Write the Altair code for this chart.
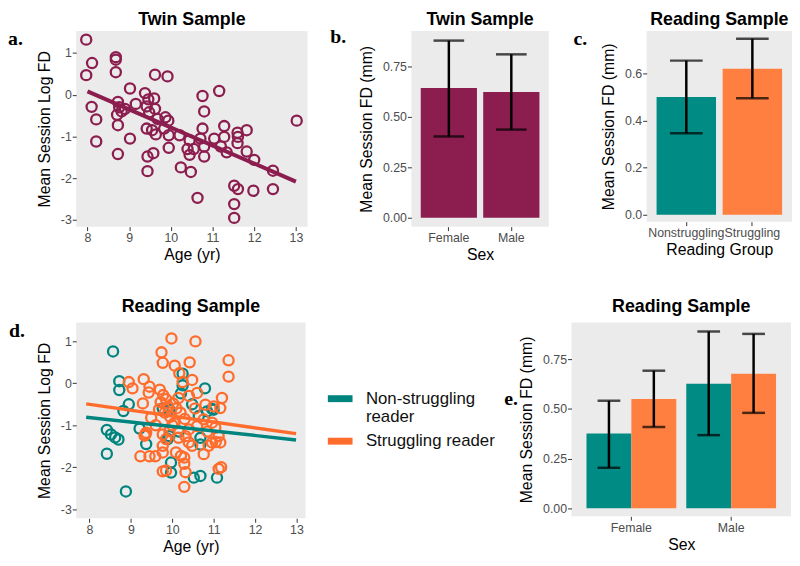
import altair as alt
import pandas as pd

# ---------------- data ----------------
panel_titles = ["Twin Sample", "Twin Sample", "Reading Sample", "Reading Sample", "Reading Sample"]

# Panel a: Twin sample scatter
a_age = [7.97, 8.11, 7.97, 8.68, 8.68, 8.68, 9.62, 9.92, 8.10, 8.21, 8.21, 8.73, 8.76, 8.90,
         8.71, 8.73, 9.02, 9.02, 8.73, 9.16, 9.38, 9.46, 9.60, 9.42, 9.62, 9.48, 9.68, 9.42,
         9.55, 9.64, 9.44, 9.58, 9.44, 9.87, 9.94, 9.84, 9.95, 9.95, 10.21, 10.45, 10.45,
         10.24, 10.48, 10.64, 10.76, 11.16, 10.80, 10.76, 13.02, 11.28, 11.60, 11.82, 11.61,
         11.60, 11.04, 11.28, 10.80, 10.80, 11.20, 11.34, 11.82, 12.00, 12.45, 12.45, 11.52,
         11.61, 11.98, 11.52, 11.52, 10.71, 10.40, 8.82, 10.55]
a_fd = [1.32, 0.76, 0.47, 0.90, 0.84, 0.54, 0.48, 0.44, -0.29, -0.59, -1.12, -0.17, -0.30, -0.34,
        -0.48, -0.73, 0.15, -1.05, -1.42, -0.22, 0.04, -0.11, -0.09, -0.28, -0.34, -0.42, -0.58,
        -0.81, -0.85, -0.95, -1.48, -1.40, -1.83, -0.54, -0.62, -0.81, -0.97, -1.27, -0.97,
        -1.09, -1.44, -1.74, -1.85, -2.47, -0.03, 0.09, -0.40, -0.81, -0.62, -0.75, -0.91,
        -0.85, -1.01, -1.16, -1.05, -1.01, -1.24, -1.48, -1.24, -1.38, -1.36, -1.56, -1.82,
        -2.26, -2.18, -2.26, -2.30, -2.62, -2.95, -1.05, -1.30, -0.40, -1.30]
a_line_age = [8.0, 13.0]
a_line_fd = [0.08, -2.08]

# Panel b: Twin sample by sex
b_sex = ["Female", "Male"]
b_mean = [0.642, 0.622]
b_lo = [0.402, 0.436]
b_hi = [0.876, 0.808]

# Panel c: Reading sample by reading group
c_group = ["Nonstruggling", "Struggling"]
c_mean = [0.500, 0.619]
c_lo = [0.346, 0.494]
c_hi = [0.654, 0.747]

# Panel d: Reading sample scatter
groups = ["Non-struggling reader", "Struggling reader"]
d_teal_age = [8.57, 8.72, 8.72, 8.95, 8.82, 8.42, 8.52, 8.62, 8.70, 8.42, 8.88, 9.21, 9.37,
              10.25, 10.25, 10.21, 10.79, 10.96, 10.84, 10.48, 9.77, 9.93, 10.64, 10.16, 9.93,
              9.89, 10.68, 10.68, 9.97, 9.97, 10.52, 10.68, 11.08, 11.00]
d_teal_fd = [0.76, 0.05, -0.16, -0.50, -0.66, -1.11, -1.22, -1.29, -1.34, -1.68, -2.58, -1.08,
             -1.45, 0.23, -0.05, -0.24, -0.12, -0.61, -0.67, -0.50, -0.60, -0.63, -0.78, -1.15,
             -1.26, -1.33, -1.30, -1.46, -1.89, -2.13, -2.25, -2.21, -2.25, -0.63]
d_orange_age = [9.98, 10.56, 9.74, 9.77, 10.06, 10.17, 10.42, 11.36, 11.36, 10.48, 8.95, 9.04,
                9.31, 9.45, 9.43, 9.29, 9.35, 9.23, 9.45, 9.59, 10.25, 10.60, 9.70, 9.78, 9.85,
                9.72, 9.90, 10.02, 10.10, 10.15, 9.82, 9.95, 10.05, 10.20, 10.30, 9.68, 10.80,
                11.00, 11.20, 11.16, 9.49, 10.76, 10.96, 11.04, 10.60, 9.37, 9.33, 9.77, 9.93,
                10.40, 10.32, 11.12, 11.16, 10.40, 10.48, 10.88, 10.96, 9.77, 9.85, 9.77, 10.09,
                10.21, 10.29, 10.76, 9.77, 9.85, 10.29, 10.32, 11.12, 11.18, 10.29, 10.00, 10.55,
                10.40, 10.85, 9.60, 10.15, 11.05]
d_orange_fd = [1.07, 1.00, 0.74, 0.49, 0.42, 0.24, 0.50, 0.55, 0.16, 0.08, 0.03, -0.12, 0.10,
               -0.08, -0.22, -0.48, -1.22, -1.74, -1.74, -1.74, 0.03, -0.23, -0.15, -0.28,
               -0.38, -0.45, -0.55, -0.48, -0.60, -0.35, -0.70, -0.80, -0.95, -0.70, -0.85,
               -0.62, -0.51, -0.55, -0.35, -0.59, -0.82, -0.86, -0.94, -1.06, -1.02, -1.18,
               -1.25, -1.22, -1.14, -1.10, -1.26, -1.26, -1.41, -1.41, -1.49, -1.49, -1.41,
               -1.49, -1.33, -1.65, -1.65, -1.73, -1.77, -1.69, -2.10, -2.08, -1.92, -2.12,
               -2.04, -2.00, -2.47, -1.00, -0.60, -0.30, -1.15, -1.00, -1.30, -1.40]
d_line_group = ["Non-struggling reader", "Non-struggling reader", "Struggling reader", "Struggling reader"]
d_line_age = [7.92, 12.99, 7.92, 12.99]
d_line_fd = [-0.81, -1.35, -0.49, -1.20]

# Panel e: Reading sample by sex and group
e_sex = ["Female", "Female", "Male", "Male"]
e_group = ["Non-struggling reader", "Struggling reader", "Non-struggling reader", "Struggling reader"]
e_mean = [0.376, 0.550, 0.626, 0.677]
e_lo = [0.204, 0.409, 0.368, 0.480]
e_hi = [0.541, 0.692, 0.889, 0.877]

# ---------------- style ----------------
MAROON = "#8B1E4F"
TEAL_BAR = "#008B84"
ORANGE_BAR = "#FF7F40"
TEAL_PT = "#00857E"
ORANGE_PT = "#FF6C2C"
SANS = "Liberation Sans"


def panel_label(txt, x, y):
    return alt.Chart(pd.DataFrame({"t": [txt]})).mark_text(
        font="Liberation Serif", fontWeight="bold", fontSize=20, align="left",
        baseline="alphabetic", color="black"
    ).encode(text="t:N", x=alt.value(x), y=alt.value(y))


def panel_title(txt, width, y):
    return alt.Chart(pd.DataFrame({"t": [txt]})).mark_text(
        font=SANS, fontSize=18, fontWeight="bold", align="center",
        baseline="alphabetic", color="black"
    ).encode(text="t:N", x=alt.value(width / 2), y=alt.value(y))


# ---------------- panel a ----------------
dfa = pd.DataFrame({"age": a_age, "fd": a_fd})
dfa_line = pd.DataFrame({"age": a_line_age, "fd": a_line_fd})
a_xs = alt.Scale(domain=[7.73, 13.28], nice=False, zero=False)
a_ys = alt.Scale(domain=[-3.16, 1.53], nice=False, zero=False)
a_xax = alt.Axis(title="Age (yr)", values=[8, 9, 10, 11, 12, 13])
a_yax = alt.Axis(title="Mean Session Log FD", values=[-3, -2, -1, 0, 1],
                 labelExpr="'' + datum.value")

pa_pts = alt.Chart(dfa).mark_point(shape="circle", filled=False, size=105, strokeWidth=2.3,
                                   color=MAROON, opacity=1).encode(
    x=alt.X("age:Q", scale=a_xs, axis=a_xax), y=alt.Y("fd:Q", scale=a_ys, axis=a_yax))
pa_line = alt.Chart(dfa_line).mark_line(color=MAROON, strokeWidth=4).encode(
    x=alt.X("age:Q", scale=a_xs, axis=a_xax), y=alt.Y("fd:Q", scale=a_ys, axis=a_yax))
pa = alt.layer(pa_pts, pa_line, panel_label("a.", -69, 14),
               panel_title(panel_titles[0], 234, -6)).properties(width=234, height=198)

# ---------------- panel b ----------------
dfb = pd.DataFrame({"sex": b_sex, "mean": b_mean, "lo": b_lo, "hi": b_hi})
b_xs = alt.Scale(paddingInner=0.1, paddingOuter=0.15)
b_xax = alt.Axis(title="Sex", labelAngle=0)
b_ys = alt.Scale(domain=[-0.044, 0.924], nice=False, zero=False)
b_yax = alt.Axis(title="Mean Session FD (mm)", values=[0, 0.25, 0.5, 0.75], format=".2f")


def by(f):
    return alt.Y(f + ":Q", scale=b_ys, axis=b_yax)


bx = alt.X("sex:N", scale=b_xs, axis=b_xax)
pb = alt.layer(
    alt.Chart(dfb).mark_bar(color=MAROON).encode(x=bx, y=by("mean")),
    alt.Chart(dfb).mark_rule(color="black", strokeWidth=2.5).encode(x=bx, y=by("lo"), y2="hi:Q"),
    alt.Chart(dfb).mark_tick(color="black", thickness=2.5, size=31).encode(x=bx, y=by("lo")),
    alt.Chart(dfb).mark_tick(color="black", thickness=2.5, size=31).encode(x=bx, y=by("hi")),
    panel_label("b.", -82, 12),
    panel_title(panel_titles[1], 139, -6),
).properties(width=139, height=198)

# ---------------- panel c ----------------
dfc = pd.DataFrame({"grp": c_group, "mean": c_mean, "lo": c_lo, "hi": c_hi})
c_xs = alt.Scale(paddingInner=0.1, paddingOuter=0.15)
c_xax = alt.Axis(title="Reading Group", labelAngle=0)
c_ys = alt.Scale(domain=[-0.029, 0.78], nice=False, zero=False)
c_yax = alt.Axis(title="Mean Session FD (mm)", values=[0, 0.2, 0.4, 0.6], format=".1f")


def cy(f):
    return alt.Y(f + ":Q", scale=c_ys, axis=c_yax)


cx = alt.X("grp:N", scale=c_xs, axis=c_xax)
pc = alt.layer(
    alt.Chart(dfc).mark_bar().encode(
        x=cx, y=cy("mean"),
        color=alt.Color("grp:N", scale=alt.Scale(domain=c_group, range=[TEAL_BAR, ORANGE_BAR]),
                        legend=None)),
    alt.Chart(dfc).mark_rule(color="black", strokeWidth=2.5).encode(x=cx, y=cy("lo"), y2="hi:Q"),
    alt.Chart(dfc).mark_tick(color="black", thickness=2.5, size=33).encode(x=cx, y=cy("lo")),
    alt.Chart(dfc).mark_tick(color="black", thickness=2.5, size=33).encode(x=cx, y=cy("hi")),
    panel_label("c.", -74, 14),
    panel_title(panel_titles[2], 147, -6),
).properties(width=147, height=193)

# ---------------- panel d ----------------
dfd = pd.DataFrame({
    "age": d_teal_age + d_orange_age,
    "fd": d_teal_fd + d_orange_fd,
    "grp": [groups[0]] * len(d_teal_age) + [groups[1]] * len(d_orange_age),
})
dfd_line = pd.DataFrame({"age": d_line_age, "fd": d_line_fd, "grp": d_line_group})
d_xs = alt.Scale(domain=[7.68, 13.22], nice=False, zero=False)
d_ys = alt.Scale(domain=[-3.22, 1.45], nice=False, zero=False)
d_xax = alt.Axis(title="Age (yr)", values=[8, 9, 10, 11, 12, 13])
d_yax = alt.Axis(title="Mean Session Log FD", values=[-3, -2, -1, 0, 1],
                 labelExpr="'' + datum.value")
d_color = alt.Color(
    "grp:N",
    scale=alt.Scale(domain=groups, range=[TEAL_PT, ORANGE_PT]),
    legend=alt.Legend(
        title=None, orient="none", legendX=251, legendY=61, padding=0,
        symbolType="M-1,0H1", symbolSize=625, symbolStrokeWidth=7,
        labelFont=SANS, labelFontSize=17, labelColor="#111111", labelOffset=10,
        rowPadding=-9, labelLimit=300,
        labelExpr="datum.label == 'Non-struggling reader' ? ['Non-struggling', 'reader'] : datum.label",
    ),
)
pd_pts = alt.Chart(dfd).mark_point(shape="circle", filled=False, size=105, strokeWidth=2.3,
                                   opacity=1).encode(
    x=alt.X("age:Q", scale=d_xs, axis=d_xax), y=alt.Y("fd:Q", scale=d_ys, axis=d_yax), color=d_color)
pd_line = alt.Chart(dfd_line).mark_line(strokeWidth=3.5).encode(
    x=alt.X("age:Q", scale=d_xs, axis=d_xax), y=alt.Y("fd:Q", scale=d_ys, axis=d_yax), color=d_color)
pdd = alt.layer(pd_pts, pd_line, panel_label("d.", -68, 15),
                panel_title(panel_titles[3], 232, -11)).properties(width=232, height=198)

# ---------------- panel e ----------------
dfe = pd.DataFrame({"sex": e_sex, "grp": e_group, "mean": e_mean, "lo": e_lo, "hi": e_hi})
e_xs = alt.Scale(paddingInner=0.1, paddingOuter=0.15)
e_xax = alt.Axis(title="Sex", labelAngle=0)
e_ys = alt.Scale(domain=[-0.04, 0.934], nice=False, zero=False)
e_yax = alt.Axis(title="Mean Session FD (mm)", values=[0, 0.25, 0.5, 0.75], format=".2f")


def ey(f):
    return alt.Y(f + ":Q", scale=e_ys, axis=e_yax)


ex = alt.X("sex:N", scale=e_xs, axis=e_xax)
exo = alt.XOffset("grp:N", scale=alt.Scale(domain=groups, paddingInner=0, paddingOuter=0))
pe = alt.layer(
    alt.Chart(dfe).mark_bar().encode(
        x=ex, xOffset=exo, y=ey("mean"),
        color=alt.Color("grp:N", scale=alt.Scale(domain=groups, range=[TEAL_BAR, ORANGE_BAR]),
                        legend=None)),
    alt.Chart(dfe).mark_rule(color="black", strokeWidth=2.5).encode(
        x=ex, xOffset=exo, y=ey("lo"), y2="hi:Q"),
    alt.Chart(dfe).mark_tick(color="black", thickness=2.5, size=23).encode(
        x=ex, xOffset=exo, y=ey("lo")),
    alt.Chart(dfe).mark_tick(color="black", thickness=2.5, size=23).encode(
        x=ex, xOffset=exo, y=ey("hi")),
    panel_label("e.", -68, 83),
    panel_title(panel_titles[4], 222, -11),
).properties(width=222, height=196)

# ---------------- layout ----------------
ind = dict(x="independent", y="independent", color="independent")
row1 = alt.hconcat(
    alt.hconcat(pa, pb, spacing=23).resolve_scale(**ind),
    pc, spacing=25).resolve_scale(**ind)
row2 = alt.hconcat(pdd, pe, spacing=9).resolve_scale(**ind).resolve_legend(color="independent")

chart = alt.vconcat(row1, row2, spacing=35).resolve_scale(**ind).resolve_legend(
    color="independent"
).properties(padding=0).configure_view(
    fill="#EBEBEB", strokeWidth=0
).configure_axis(
    grid=False, domain=False, tickColor="#333333", tickSize=4, tickWidth=1,
    labelColor="#4D4D4D", labelFont=SANS, labelFontSize=12.5, labelPadding=1,
    titleFont=SANS, titleFontSize=16, titleFontWeight="normal", titleColor="#000000",
).configure_axisY(titlePadding=8).configure_axisX(titlePadding=3)

chart.save("out.html", embed_options={"renderer": "svg", "actions": False})
